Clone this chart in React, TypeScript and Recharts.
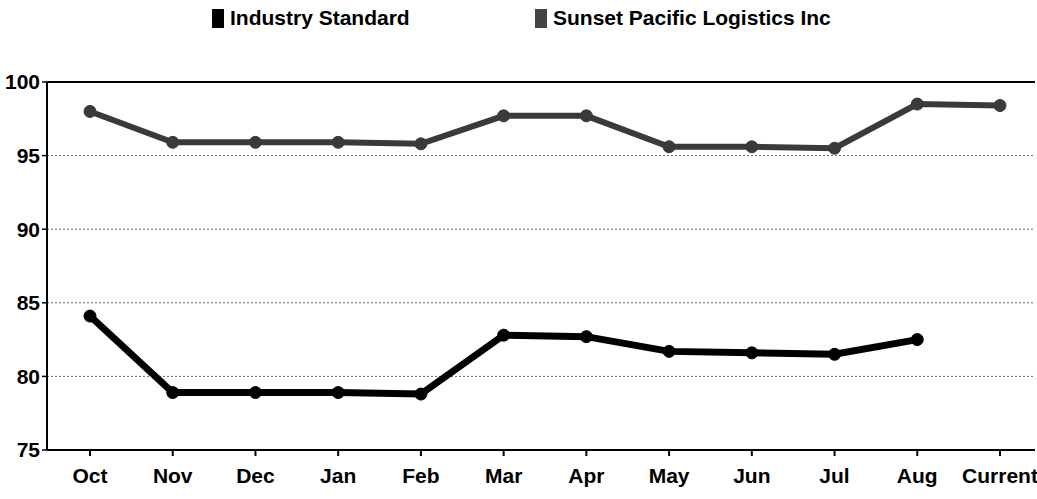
import { LineChart, Line, XAxis, YAxis, CartesianGrid, ReferenceLine } from "recharts";

const months = ["Oct", "Nov", "Dec", "Jan", "Feb", "Mar", "Apr", "May", "Jun", "Jul", "Aug", "Current"];
const industryStandard = [84.1, 78.9, 78.9, 78.9, 78.8, 82.8, 82.7, 81.7, 81.6, 81.5, 82.5, null];
const sunsetPacific = [98.0, 95.9, 95.9, 95.9, 95.8, 97.7, 97.7, 95.6, 95.6, 95.5, 98.5, 98.4];
const yTicks = [75, 80, 85, 90, 95, 100];

const rows = months.map((month, i) => ({
  month,
  industry: industryStandard[i],
  sunset: sunsetPacific[i],
}));

const font = '"Liberation Sans", Arial, sans-serif';
const tickStyle = { fill: "#000", fontSize: 21, fontWeight: 700, fontFamily: font };

function LegendItem({ left, color, label }: { left: number; color: string; label: string }) {
  return (
    <div style={{ position: "absolute", left, top: 6, display: "flex", alignItems: "center" }}>
      <span style={{ display: "inline-block", width: 12, height: 19, background: color, marginRight: 6 }} />
      <span style={{ fontSize: 21, fontWeight: 700, color: "#000", lineHeight: "24px" }}>{label}</span>
    </div>
  );
}

export default function App() {
  return (
    <div style={{ position: "absolute", left: 0, top: 0, width: 1037, height: 499, background: "#fff", fontFamily: font }}>
      <LegendItem left={212} color="#000" label="Industry Standard" />
      <LegendItem left={535} color="#444" label="Sunset Pacific Logistics Inc" />
      <LineChart width={1037} height={499} data={rows} margin={{ top: 82, right: 2, bottom: 19, left: 0 }}>
        <CartesianGrid vertical={false} stroke="#666" strokeDasharray="2 2" />
        <XAxis
          dataKey="month"
          scale="point"
          padding={{ left: 43, right: 35 }}
          interval={0}
          height={30}
          tickSize={6}
          tickMargin={12}
          tick={tickStyle}
          axisLine={{ stroke: "#000", strokeWidth: 2 }}
          tickLine={{ stroke: "#000", strokeWidth: 2 }}
        />
        <YAxis
          domain={[75, 100]}
          ticks={yTicks}
          width={47}
          tickSize={5}
          tickMargin={2}
          tick={tickStyle}
          axisLine={{ stroke: "#000", strokeWidth: 2 }}
          tickLine={{ stroke: "#000", strokeWidth: 1.5 }}
        />
        <YAxis
          yAxisId="frame"
          orientation="right"
          width={0}
          tick={false}
          tickLine={false}
          axisLine={{ stroke: "#000", strokeWidth: 2 }}
        />
        <ReferenceLine y={100} stroke="#000" strokeWidth={2} />
        <Line
          dataKey="sunset"
          stroke="#3a3a3a"
          strokeWidth={6}
          dot={{ r: 6, fill: "#3a3a3a", stroke: "#3a3a3a", strokeWidth: 1 }}
          isAnimationActive={false}
        />
        <Line
          dataKey="industry"
          stroke="#000"
          strokeWidth={7}
          dot={{ r: 6, fill: "#000", stroke: "#000", strokeWidth: 1 }}
          isAnimationActive={false}
        />
      </LineChart>
    </div>
  );
}
